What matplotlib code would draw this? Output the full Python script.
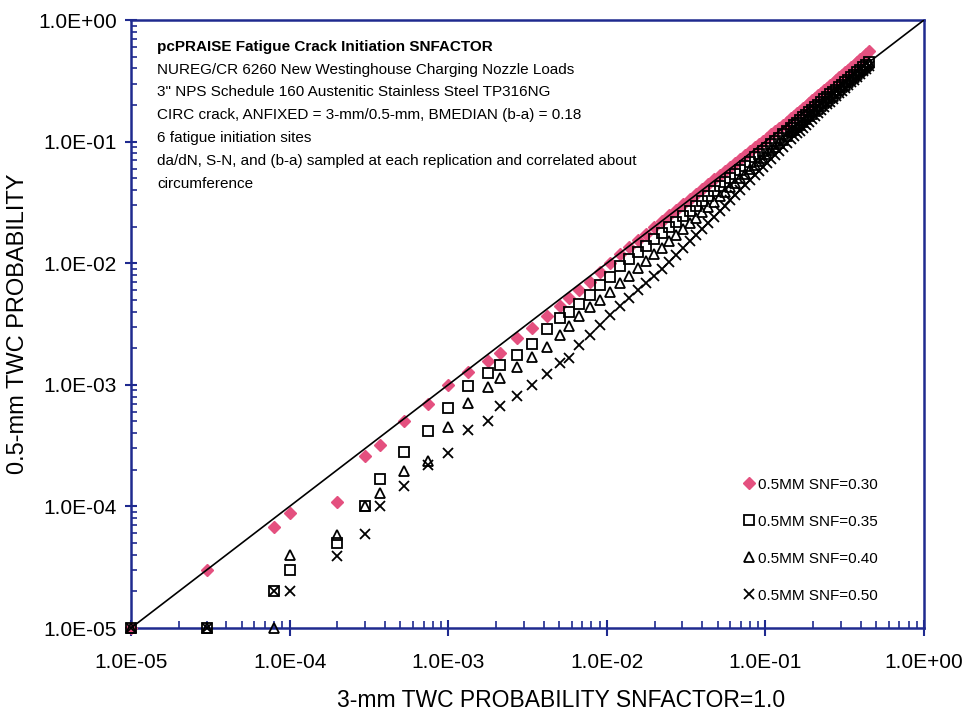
import numpy as np
import matplotlib.pyplot as plt
from matplotlib.ticker import LogLocator, FuncFormatter, NullFormatter

plt.rcParams['font.family'] = ['Liberation Sans', 'DejaVu Sans']

# 3-mm TWC probability (SNFACTOR = 1.0), shared by all series
x_3mm = [1.0e-5, 3.0e-5, 8.0e-5, 1.0e-4, 2.0e-4, 3.0e-4, 3.7e-4, 5.3e-4, 7.5e-4, 1.0e-3,
         1.33e-3, 1.79e-3, 2.12e-3, 2.70e-3, 3.39e-3, 4.18e-3, 5.07e-3, 5.78e-3, 6.71e-3, 7.84e-3,
         9.06e-3, 1.05e-2, 1.21e-2, 1.38e-2, 1.57e-2, 1.77e-2, 1.98e-2, 2.23e-2, 2.47e-2, 2.73e-2,
         3.02e-2, 3.35e-2, 3.65e-2, 3.99e-2, 4.35e-2, 4.74e-2, 5.17e-2, 5.56e-2, 5.98e-2, 6.43e-2,
         6.92e-2, 7.44e-2, 7.99e-2, 8.60e-2, 9.11e-2, 9.66e-2, 0.102, 0.109, 0.115, 0.122,
         0.129, 0.137, 0.145, 0.152, 0.158, 0.165, 0.173, 0.180, 0.188, 0.197,
         0.206, 0.215, 0.224, 0.234, 0.245, 0.256, 0.267, 0.279, 0.291, 0.304,
         0.318, 0.332, 0.347, 0.362, 0.378, 0.395, 0.412, 0.431, 0.450]

# 0.5-mm TWC probability for each SN factor
snf030 = [1.0e-5, 3.0e-5, 6.8e-5, 8.8e-5, 1.08e-4, 2.6e-4, 3.2e-4, 5.0e-4, 7.0e-4, 1.0e-3,
          1.28e-3, 1.57e-3, 1.84e-3, 2.41e-3, 2.95e-3, 3.68e-3, 4.45e-3, 5.15e-3, 6.02e-3, 7.05e-3,
          8.5e-3, 9.98e-3, 1.18e-2, 1.36e-2, 1.55e-2, 1.75e-2, 1.98e-2, 2.23e-2, 2.48e-2, 2.76e-2,
          3.07e-2, 3.40e-2, 3.73e-2, 4.08e-2, 4.47e-2, 4.89e-2, 5.34e-2, 5.76e-2, 6.21e-2, 6.69e-2,
          7.23e-2, 7.79e-2, 8.39e-2, 9.05e-2, 9.61e-2, 0.102, 0.108, 0.115, 0.122, 0.130,
          0.138, 0.146, 0.156, 0.163, 0.171, 0.180, 0.189, 0.198, 0.208, 0.218,
          0.229, 0.240, 0.252, 0.265, 0.278, 0.291, 0.306, 0.321, 0.337, 0.353,
          0.371, 0.389, 0.408, 0.429, 0.451, 0.475, 0.499, 0.525, 0.552]

snf035 = [1.0e-5, 1.0e-5, 2.0e-5, 3.0e-5, 5.0e-5, 1.0e-4, 1.68e-4, 2.78e-4, 4.2e-4, 6.5e-4,
          9.8e-4, 1.24e-3, 1.46e-3, 1.76e-3, 2.17e-3, 2.86e-3, 3.52e-3, 3.99e-3, 4.62e-3, 5.47e-3,
          6.62e-3, 7.75e-3, 9.40e-3, 1.08e-2, 1.23e-2, 1.39e-2, 1.57e-2, 1.77e-2, 1.97e-2, 2.19e-2,
          2.44e-2, 2.71e-2, 2.97e-2, 3.26e-2, 3.57e-2, 3.91e-2, 4.28e-2, 4.63e-2, 5.00e-2, 5.41e-2,
          5.85e-2, 6.33e-2, 6.84e-2, 7.41e-2, 7.88e-2, 8.39e-2, 8.91e-2, 9.49e-2, 0.101, 0.108,
          0.115, 0.122, 0.130, 0.137, 0.143, 0.150, 0.158, 0.166, 0.174, 0.183,
          0.192, 0.201, 0.211, 0.222, 0.232, 0.244, 0.256, 0.268, 0.281, 0.294,
          0.309, 0.324, 0.339, 0.355, 0.373, 0.390, 0.410, 0.429, 0.450]

snf040 = [1.0e-5, 1.0e-5, 1.0e-5, 4.0e-5, 5.8e-5, 1.0e-4, 1.28e-4, 1.97e-4, 2.36e-4, 4.5e-4,
          7.05e-4, 9.66e-4, 1.13e-3, 1.41e-3, 1.68e-3, 2.06e-3, 2.57e-3, 3.05e-3, 3.68e-3, 4.39e-3,
          4.98e-3, 5.83e-3, 6.81e-3, 7.87e-3, 9.11e-3, 1.04e-2, 1.18e-2, 1.34e-2, 1.51e-2, 1.69e-2,
          1.90e-2, 2.14e-2, 2.36e-2, 2.62e-2, 2.89e-2, 3.20e-2, 3.54e-2, 3.85e-2, 4.20e-2, 4.56e-2,
          4.98e-2, 5.42e-2, 5.90e-2, 6.43e-2, 6.90e-2, 7.38e-2, 7.89e-2, 8.46e-2, 9.05e-2, 9.70e-2,
          0.104, 0.111, 0.119, 0.125, 0.131, 0.138, 0.145, 0.153, 0.161, 0.169,
          0.177, 0.187, 0.196, 0.206, 0.217, 0.228, 0.239, 0.252, 0.265, 0.279,
          0.293, 0.308, 0.325, 0.342, 0.359, 0.378, 0.398, 0.418, 0.440]

snf050 = [1.0e-5, 1.0e-5, 2.0e-5, 2.0e-5, 3.9e-5, 5.9e-5, 1.0e-4, 1.47e-4, 2.19e-4, 2.77e-4,
          4.25e-4, 5.07e-4, 6.7e-4, 8.14e-4, 9.96e-4, 1.22e-3, 1.50e-3, 1.65e-3, 2.12e-3, 2.57e-3,
          3.10e-3, 3.75e-3, 4.45e-3, 5.16e-3, 6.01e-3, 6.86e-3, 7.85e-3, 8.95e-3, 1.02e-2, 1.17e-2,
          1.34e-2, 1.53e-2, 1.71e-2, 1.92e-2, 2.15e-2, 2.42e-2, 2.71e-2, 2.98e-2, 3.28e-2, 3.61e-2,
          3.97e-2, 4.37e-2, 4.81e-2, 5.29e-2, 5.71e-2, 6.17e-2, 6.65e-2, 7.18e-2, 7.75e-2, 8.37e-2,
          9.04e-2, 9.73e-2, 0.105, 0.111, 0.117, 0.123, 0.130, 0.137, 0.145, 0.153,
          0.162, 0.171, 0.181, 0.191, 0.202, 0.213, 0.224, 0.236, 0.249, 0.262,
          0.277, 0.291, 0.307, 0.323, 0.341, 0.359, 0.379, 0.398, 0.420]

labels = ["0.5MM SNF=0.30", "0.5MM SNF=0.35", "0.5MM SNF=0.40", "0.5MM SNF=0.50"]
diag = [1.0e-5, 1.0]

note_title = "pcPRAISE Fatigue Crack Initiation SNFACTOR"
note_lines = [
    "NUREG/CR 6260 New Westinghouse Charging Nozzle Loads",
    '3" NPS Schedule 160 Austenitic Stainless Steel TP316NG',
    "CIRC crack, ANFIXED = 3-mm/0.5-mm, BMEDIAN (b-a) = 0.18",
    "6 fatigue initiation sites",
    "da/dN, S-N, and (b-a) sampled at each replication and correlated about",
    "circumference",
]

navy = "#1f2a8f"
pink = "#e4507f"

fig = plt.figure(figsize=(9.65, 7.1), dpi=100)
ax = fig.add_axes([131 / 965, 82 / 710, 793 / 965, 608 / 710])
ax.set_xscale("log")
ax.set_yscale("log")
ax.set_xlim(1e-5, 1.0)
ax.set_ylim(1e-5, 1.0)

ax.plot(x_3mm, snf030, ls="none", marker="D", ms=6.4, color=pink, mec=pink,
        clip_on=False, label=labels[0], zorder=3)
ax.plot(x_3mm, snf035, ls="none", marker="s", ms=7.2, mfc="none", mec="black", mew=1.3,
        clip_on=False, label=labels[1], zorder=3)
ax.plot(x_3mm, snf040, ls="none", marker="^", ms=7.4, mfc="none", mec="black", mew=1.3,
        clip_on=False, label=labels[2], zorder=3)
ax.plot(x_3mm, snf050, ls="none", marker="x", ms=7.4, mec="black", mew=1.3,
        clip_on=False, label=labels[3], zorder=3)
ax.plot(diag, diag, color="black", lw=1.2, zorder=4)

for side in ["left", "right", "top", "bottom"]:
    ax.spines[side].set_color(navy)
    ax.spines[side].set_linewidth(1.8)

major = LogLocator(base=10, numticks=10)
minor = LogLocator(base=10, subs=np.arange(2, 10), numticks=10)
fmt = FuncFormatter(lambda v, pos: f"{v:.1E}")
for axis in (ax.xaxis, ax.yaxis):
    axis.set_major_locator(major)
    axis.set_minor_locator(minor)
    axis.set_major_formatter(fmt)
    axis.set_minor_formatter(NullFormatter())

ax.tick_params(axis="x", which="major", direction="inout", length=12, width=1.5,
               color=navy, labelsize=15, pad=12, top=False)
ax.tick_params(axis="x", which="minor", direction="in", length=5, width=1.2,
               color=navy, top=False)
ax.tick_params(axis="y", which="major", direction="inout", length=8, width=1.5,
               color=navy, labelsize=15, pad=6, right=False)
ax.tick_params(axis="y", which="minor", direction="in", length=4, width=1.2,
               color=navy, right=False)

ax.set_xlabel("3-mm TWC PROBABILITY SNFACTOR=1.0", fontsize=16.5)
ax.xaxis.set_label_coords(0.542, -0.1)
ax.set_ylabel("0.5-mm TWC PROBABILITY", fontsize=17)
ax.yaxis.set_label_coords(-0.128, 0.5)

ax.text(0.033, 0.956, note_title, transform=ax.transAxes, fontsize=11,
        fontweight="bold", va="center", ha="left")
for i, line in enumerate(note_lines):
    ax.text(0.033, 0.956 - (i + 1) * 0.0376, line, transform=ax.transAxes,
            fontsize=11, va="center", ha="left")

leg = ax.legend(loc="upper left", bbox_to_anchor=(0.771, 0.247), frameon=False,
                fontsize=11, numpoints=1, handlelength=0.8, handletextpad=0.2,
                labelspacing=1.5, borderpad=0, borderaxespad=0)

fig.savefig("out.png", dpi=100)
